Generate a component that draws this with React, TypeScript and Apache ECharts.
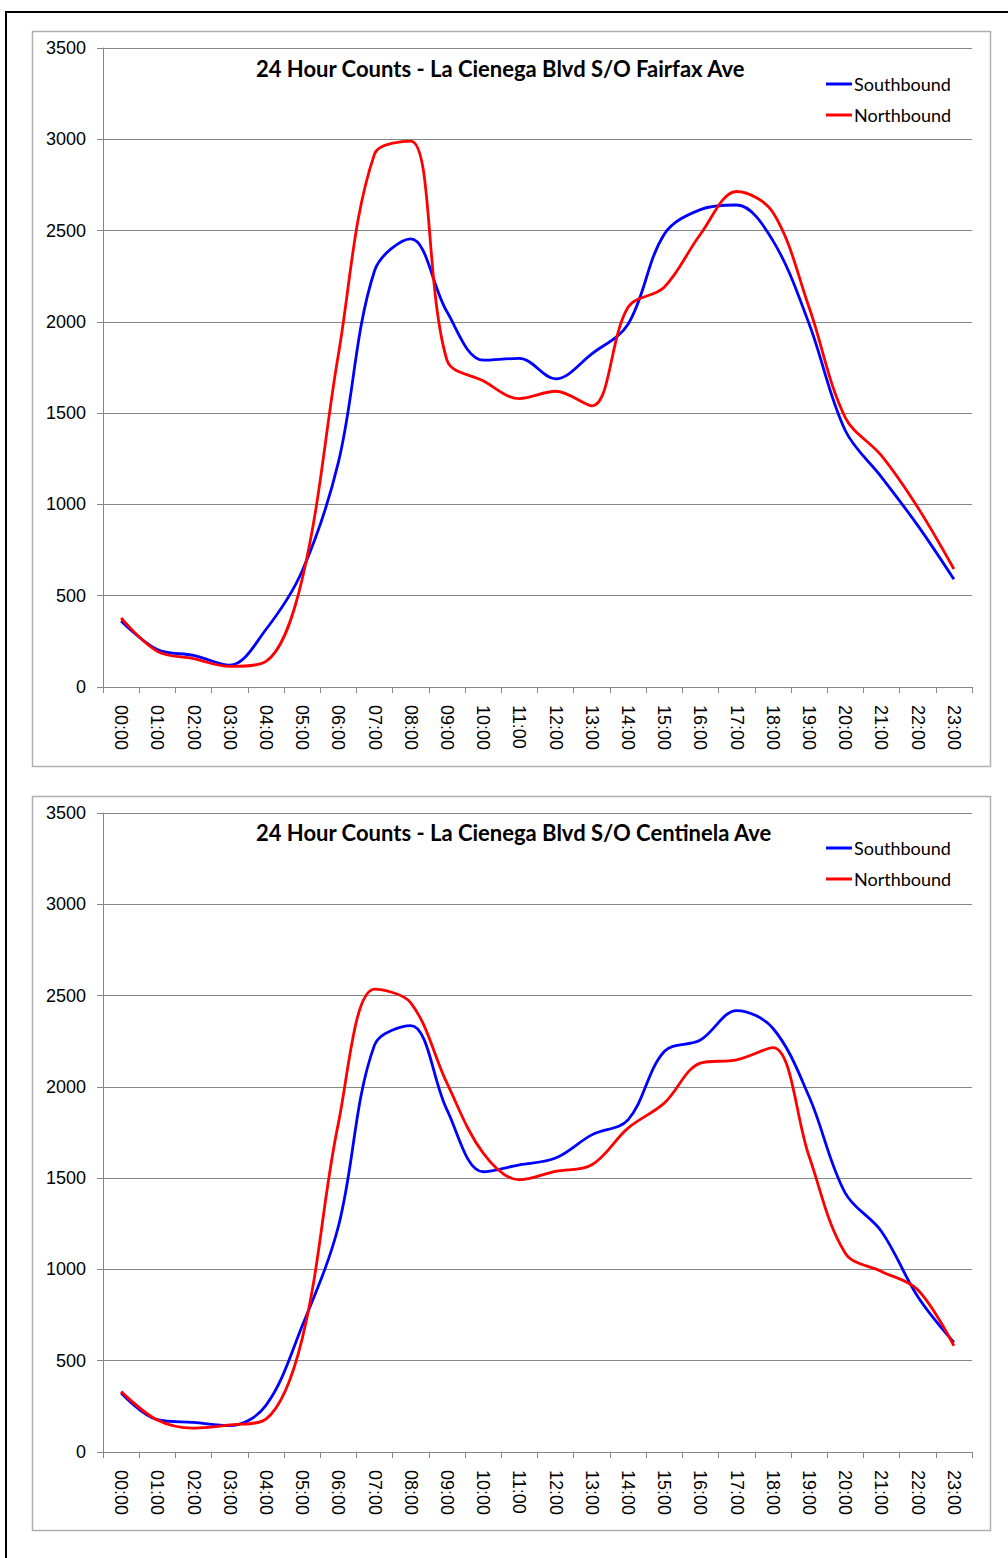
import React, { useEffect, useRef } from "react";
import * as echarts from "echarts";

const hours = [
  "00:00", "01:00", "02:00", "03:00", "04:00", "05:00", "06:00", "07:00",
  "08:00", "09:00", "10:00", "11:00", "12:00", "13:00", "14:00", "15:00",
  "16:00", "17:00", "18:00", "19:00", "20:00", "21:00", "22:00", "23:00",
];

const yTicks = [0, 500, 1000, 1500, 2000, 2500, 3000, 3500];

const title1 = "24 Hour Counts - La Cienega Blvd S/O Fairfax Ave";
const title2 = "24 Hour Counts - La Cienega Blvd S/O Centinela Ave";

const fairfaxSouth = [362, 205, 173, 120, 315, 635, 1230, 2280, 2455, 2055, 1790, 1800, 1688, 1825, 1987, 2480, 2615, 2640, 2445, 1990, 1405, 1150, 885, 590];
const fairfaxNorth = [378, 195, 155, 113, 140, 590, 1820, 2920, 2990, 1790, 1677, 1580, 1620, 1540, 2080, 2190, 2480, 2714, 2600, 2080, 1476, 1267, 984, 646];

const centinelaSouth = [323, 177, 162, 144, 255, 690, 1235, 2230, 2335, 1874, 1535, 1573, 1610, 1737, 1819, 2194, 2257, 2418, 2321, 1947, 1418, 1208, 852, 600];
const centinelaNorth = [332, 175, 131, 148, 180, 620, 1800, 2535, 2460, 2020, 1637, 1491, 1537, 1573, 1774, 1911, 2130, 2148, 2215, 1620, 1089, 989, 889, 582];

const BLUE = "#0000ff";
const RED = "#ff0000";
const AXIS_GRAY = "#868686";
const LABEL_FONT = "'Liberation Sans', Arial, sans-serif";
const TITLE_FONT = "Lato, 'Open Sans', sans-serif";

export default function App() {
  const ref = useRef<HTMLDivElement>(null);

  useEffect(() => {
    if (!ref.current) return;
    const chart = echarts.init(ref.current, undefined, { renderer: "svg" });

    const grids = [
      { left: 103, top: 48, width: 869, height: 639 },
      { left: 103, top: 813, width: 869, height: 639 },
    ];

    const xAxes = grids.map((_, i) => ({
      type: "category",
      gridIndex: i,
      data: hours,
      boundaryGap: true,
      axisLine: { show: true, lineStyle: { color: AXIS_GRAY, width: 1 } },
      axisTick: { show: true, interval: 0, length: 6, lineStyle: { color: AXIS_GRAY } },
      axisLabel: {
        interval: 0,
        rotate: -90,
        margin: 18,
        color: "#000",
        fontSize: 18,
        fontFamily: LABEL_FONT,
      },
      splitLine: { show: false },
    }));

    const yAxes = grids.map((_, i) => ({
      type: "value",
      gridIndex: i,
      min: yTicks[0],
      max: yTicks[yTicks.length - 1],
      interval: 500,
      axisLine: { show: true, lineStyle: { color: AXIS_GRAY, width: 1 } },
      axisTick: { show: true, length: 6, lineStyle: { color: AXIS_GRAY } },
      axisLabel: {
        margin: 17,
        color: "#000",
        fontSize: 18,
        fontFamily: LABEL_FONT,
        formatter: (v: number) => String(v),
      },
      splitLine: { show: true, lineStyle: { color: AXIS_GRAY, width: 1 } },
    }));

    const mkSeries = (name: string, data: number[], color: string, idx: number) => ({
      name,
      type: "line",
      xAxisIndex: idx,
      yAxisIndex: idx,
      data,
      smooth: 0.35,
      symbol: "none",
      lineStyle: { color, width: 2.8 },
      itemStyle: { color },
    });

    const mkLegend = (top: number) => ({
      orient: "vertical",
      left: 826,
      top,
      padding: 0,
      itemWidth: 26,
      itemHeight: 3,
      itemGap: 11,
      icon: "rect",
      data: ["Southbound", "Northbound"],
      textStyle: { fontSize: 18, lineHeight: 20, color: "#000", fontFamily: TITLE_FONT, padding: [0, 0, 0, -3] },
      selectedMode: false,
    });

    const mkTitle = (text: string, top: number) => ({
      text,
      left: 256,
      top,
      padding: 0,
      textStyle: { fontSize: 22, fontWeight: "bold", color: "#000", fontFamily: TITLE_FONT, lineHeight: 22 },
    });

    chart.setOption({
      animation: false,
      backgroundColor: "#fff",
      title: [mkTitle(title1, 57), mkTitle(title2, 821)],
      legend: [mkLegend(74), mkLegend(838)],
      grid: grids,
      xAxis: xAxes,
      yAxis: yAxes,
      series: [
        mkSeries("Southbound", fairfaxSouth, BLUE, 0),
        mkSeries("Northbound", fairfaxNorth, RED, 0),
        mkSeries("Southbound", centinelaSouth, BLUE, 1),
        mkSeries("Northbound", centinelaNorth, RED, 1),
      ],
      graphic: [
        {
          type: "polyline",
          silent: true,
          shape: { points: [[6, 1600], [6, 12], [1100, 12]] },
          style: { stroke: "#000", lineWidth: 2, fill: "none" },
        },
        {
          type: "rect",
          silent: true,
          shape: { x: 32.5, y: 31.5, width: 958, height: 735 },
          style: { stroke: "#b0b0b0", lineWidth: 1.5, fill: "none" },
        },
        {
          type: "rect",
          silent: true,
          shape: { x: 32.5, y: 796.5, width: 958, height: 734 },
          style: { stroke: "#b0b0b0", lineWidth: 1.5, fill: "none" },
        },
      ],
    });

    return () => chart.dispose();
  }, []);

  return (
    <div style={{ position: "absolute", left: 0, top: 0, width: 1008, height: 1558, overflow: "hidden", background: "#fff" }}>
      <div ref={ref} style={{ width: 1008, height: 1558 }} />
    </div>
  );
}
